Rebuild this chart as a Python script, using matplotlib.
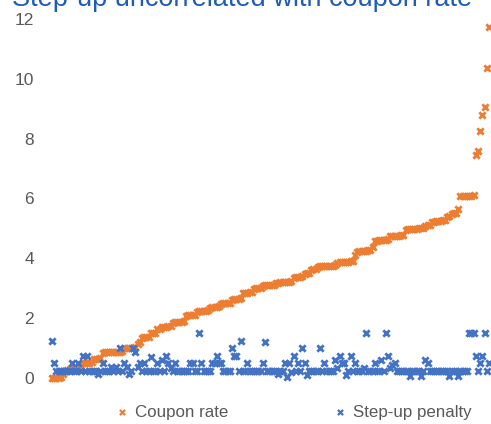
import matplotlib
matplotlib.use("Agg")
import matplotlib.pyplot as plt

plt.rcParams['font.family'] = ['Liberation Sans', 'DejaVu Sans']

title = "Step-up uncorrelated with coupon rate"
series_names = ["Coupon rate", "Step-up penalty"]
y_ticks = [0, 2, 4, 6, 8, 10, 12]

coupon_rate = [
    0.0, 0.0, 0.0, 0.0, 0.05, 0.15, 0.25,
    0.28, 0.3, 0.3, 0.3, 0.32, 0.33, 0.35,
    0.5, 0.5, 0.5, 0.5, 0.52,
    0.65, 0.65, 0.65, 0.67,
    0.85, 0.86, 0.86, 0.87, 0.87, 0.87, 0.87, 0.88, 0.88, 0.89,
    1.0, 1.0, 1.0, 1.0, 1.0, 1.02,
    1.15, 1.2,
    1.35, 1.37, 1.37, 1.38,
    1.5, 1.5, 1.52,
    1.63, 1.65,
    1.7, 1.72, 1.72, 1.73, 1.75,
    1.85, 1.86, 1.87, 1.87, 1.88, 1.9,
    2.08, 2.1, 2.1, 2.1, 2.12,
    2.22, 2.23, 2.24, 2.24, 2.25, 2.26,
    2.35, 2.37, 2.37, 2.38, 2.4,
    2.48, 2.5, 2.5, 2.5, 2.52,
    2.62, 2.63, 2.64, 2.65, 2.67,
    2.83, 2.85, 2.85, 2.86, 2.88,
    2.98, 3.0, 3.0, 3.02,
    3.08, 3.1, 3.1, 3.1, 3.11, 3.12,
    3.18, 3.19, 3.2, 3.2, 3.2, 3.21, 3.22, 3.23,
    3.35, 3.36, 3.37, 3.38, 3.4,
    3.49, 3.5, 3.52,
    3.61, 3.63, 3.65,
    3.72, 3.73, 3.74, 3.74, 3.74, 3.75, 3.75, 3.76, 3.77,
    3.86, 3.87, 3.88, 3.88, 3.88, 3.89, 3.9, 3.9,
    4.1,
    4.22, 4.23, 4.25, 4.25, 4.26, 4.27, 4.28,
    4.38,
    4.58, 4.59, 4.6, 4.6, 4.61, 4.62, 4.63,
    4.73, 4.74, 4.75, 4.75, 4.76, 4.77, 4.78,
    4.96, 4.97, 4.98, 4.98, 4.98, 4.99, 5.0, 5.0, 5.01,
    5.08, 5.1, 5.12,
    5.22, 5.23, 5.25, 5.25, 5.26, 5.27, 5.28,
    5.38, 5.42,
    5.48, 5.5, 5.52,
    5.65,
    6.08, 6.1, 6.1, 6.1, 6.1, 6.1, 6.12,
    7.45, 7.6, 8.26, 8.8, 9.07, 10.37, 11.74,
]

stepup_penalty = [
    1.25, 0.5, 0.25, 0.25, 0.25, 0.25, 0.25, 0.25, 0.25, 0.5,
    0.25, 0.25, 0.5, 0.25, 0.75, 0.25, 0.75, 0.25, 0.25, 0.25,
    0.25, 0.12, 0.25, 0.5, 0.25, 0.25, 0.25, 0.37, 0.25, 0.37,
    0.25, 1.0, 0.25, 0.5, 0.37, 0.15, 0.25, 1.0, 0.87, 0.37,
    0.5, 0.25, 0.5, 0.25, 0.25, 0.7, 0.25, 0.25, 0.5, 0.25,
    0.6, 0.25, 0.75, 0.5, 0.35, 0.25, 0.5, 0.25, 0.25, 0.25,
    0.25, 0.25, 0.25, 0.5, 0.5, 0.25, 0.25, 1.5, 0.5, 0.25,
    0.25, 0.25, 0.25, 0.5, 0.5, 0.75, 0.5, 0.5, 0.25, 0.25,
    0.25, 0.25, 1.0, 0.75, 0.75, 0.25, 1.24, 0.25, 0.25, 0.5,
    0.25, 0.25, 0.25, 0.25, 0.25, 0.25, 0.5, 1.2, 0.25, 0.25,
    0.25, 0.25, 0.25, 0.12, 0.25, 0.25, 0.5, 0.05, 0.5, 0.2,
    0.75, 0.25, 0.5, 0.25, 1.0, 0.5, 0.1, 0.25, 0.25, 0.25,
    0.25, 0.25, 1.0, 0.25, 0.5, 0.25, 0.25, 0.25, 0.25, 0.6,
    0.35, 0.75, 0.5, 0.5, 0.1, 0.25, 0.75, 0.25, 0.5, 0.25,
    0.25, 0.25, 0.35, 1.5, 0.25, 0.25, 0.25, 0.5, 0.25, 0.25,
    0.6, 0.25, 1.5, 0.75, 0.35, 0.45, 0.5, 0.25, 0.25, 0.25,
    0.25, 0.25, 0.25, 0.07, 0.25, 0.25, 0.25, 0.25, 0.07, 0.25,
    0.6, 0.5, 0.25, 0.25, 0.25, 0.25, 0.25, 0.25, 0.25, 0.25,
    0.25, 0.07, 0.25, 0.25, 0.25, 0.07, 0.25, 0.25, 0.25, 0.25,
    1.5, 1.5, 1.5, 0.75, 0.25, 0.5, 0.75, 1.5, 0.25, 0.5,
]

orange = '#ED7D31'
blue = '#4472C4'
text_gray = '#595959'
title_blue = '#1F5CB8'

W, H = 491, 424
fig = plt.figure(figsize=(W / 100, H / 100), dpi=100)
left_px, right_px, top_px, bottom_px = 49.8, 489, 19, 378
ax = fig.add_axes([left_px / W, 1 - bottom_px / H,
                   (right_px - left_px) / W, (bottom_px - top_px) / H])

xs_c = list(range(len(coupon_rate)))
xs_s = list(range(len(stepup_penalty)))

ax.scatter(xs_c, coupon_rate, marker='x', s=21, linewidths=2.0,
           color=orange, clip_on=False, zorder=3)
ax.scatter(xs_s, stepup_penalty, marker='x', s=21, linewidths=2.0,
           color=blue, clip_on=False, zorder=4)

ax.set_xlim(-1, len(coupon_rate) - 1)
ax.set_ylim(0, 12)
ax.set_yticks(y_ticks)
ax.set_yticklabels([str(t) for t in y_ticks])
ax.set_xticks([])
for s in ax.spines.values():
    s.set_visible(False)
ax.tick_params(axis='y', length=0, pad=11.5, labelsize=12.5, labelcolor=text_gray)

fig.text(12 / W, 1 - 5.5 / H, title, fontsize=19.5, color=title_blue,
         ha='left', va='baseline')

h1 = ax.scatter([], [], marker='x', s=14, linewidths=1.6, color=orange)
h2 = ax.scatter([], [], marker='x', s=14, linewidths=1.6, color=blue)
leg = fig.legend([h1, h2], series_names, loc='center',
                 bbox_to_anchor=(294 / W, 1 - 412 / H), ncol=2, frameon=False,
                 fontsize=12.2, handlelength=0.6, handletextpad=0.45,
                 columnspacing=6.3, borderaxespad=0, scatterpoints=1)
for t in leg.get_texts():
    t.set_color(text_gray)

fig.savefig('out.png', dpi=100)
